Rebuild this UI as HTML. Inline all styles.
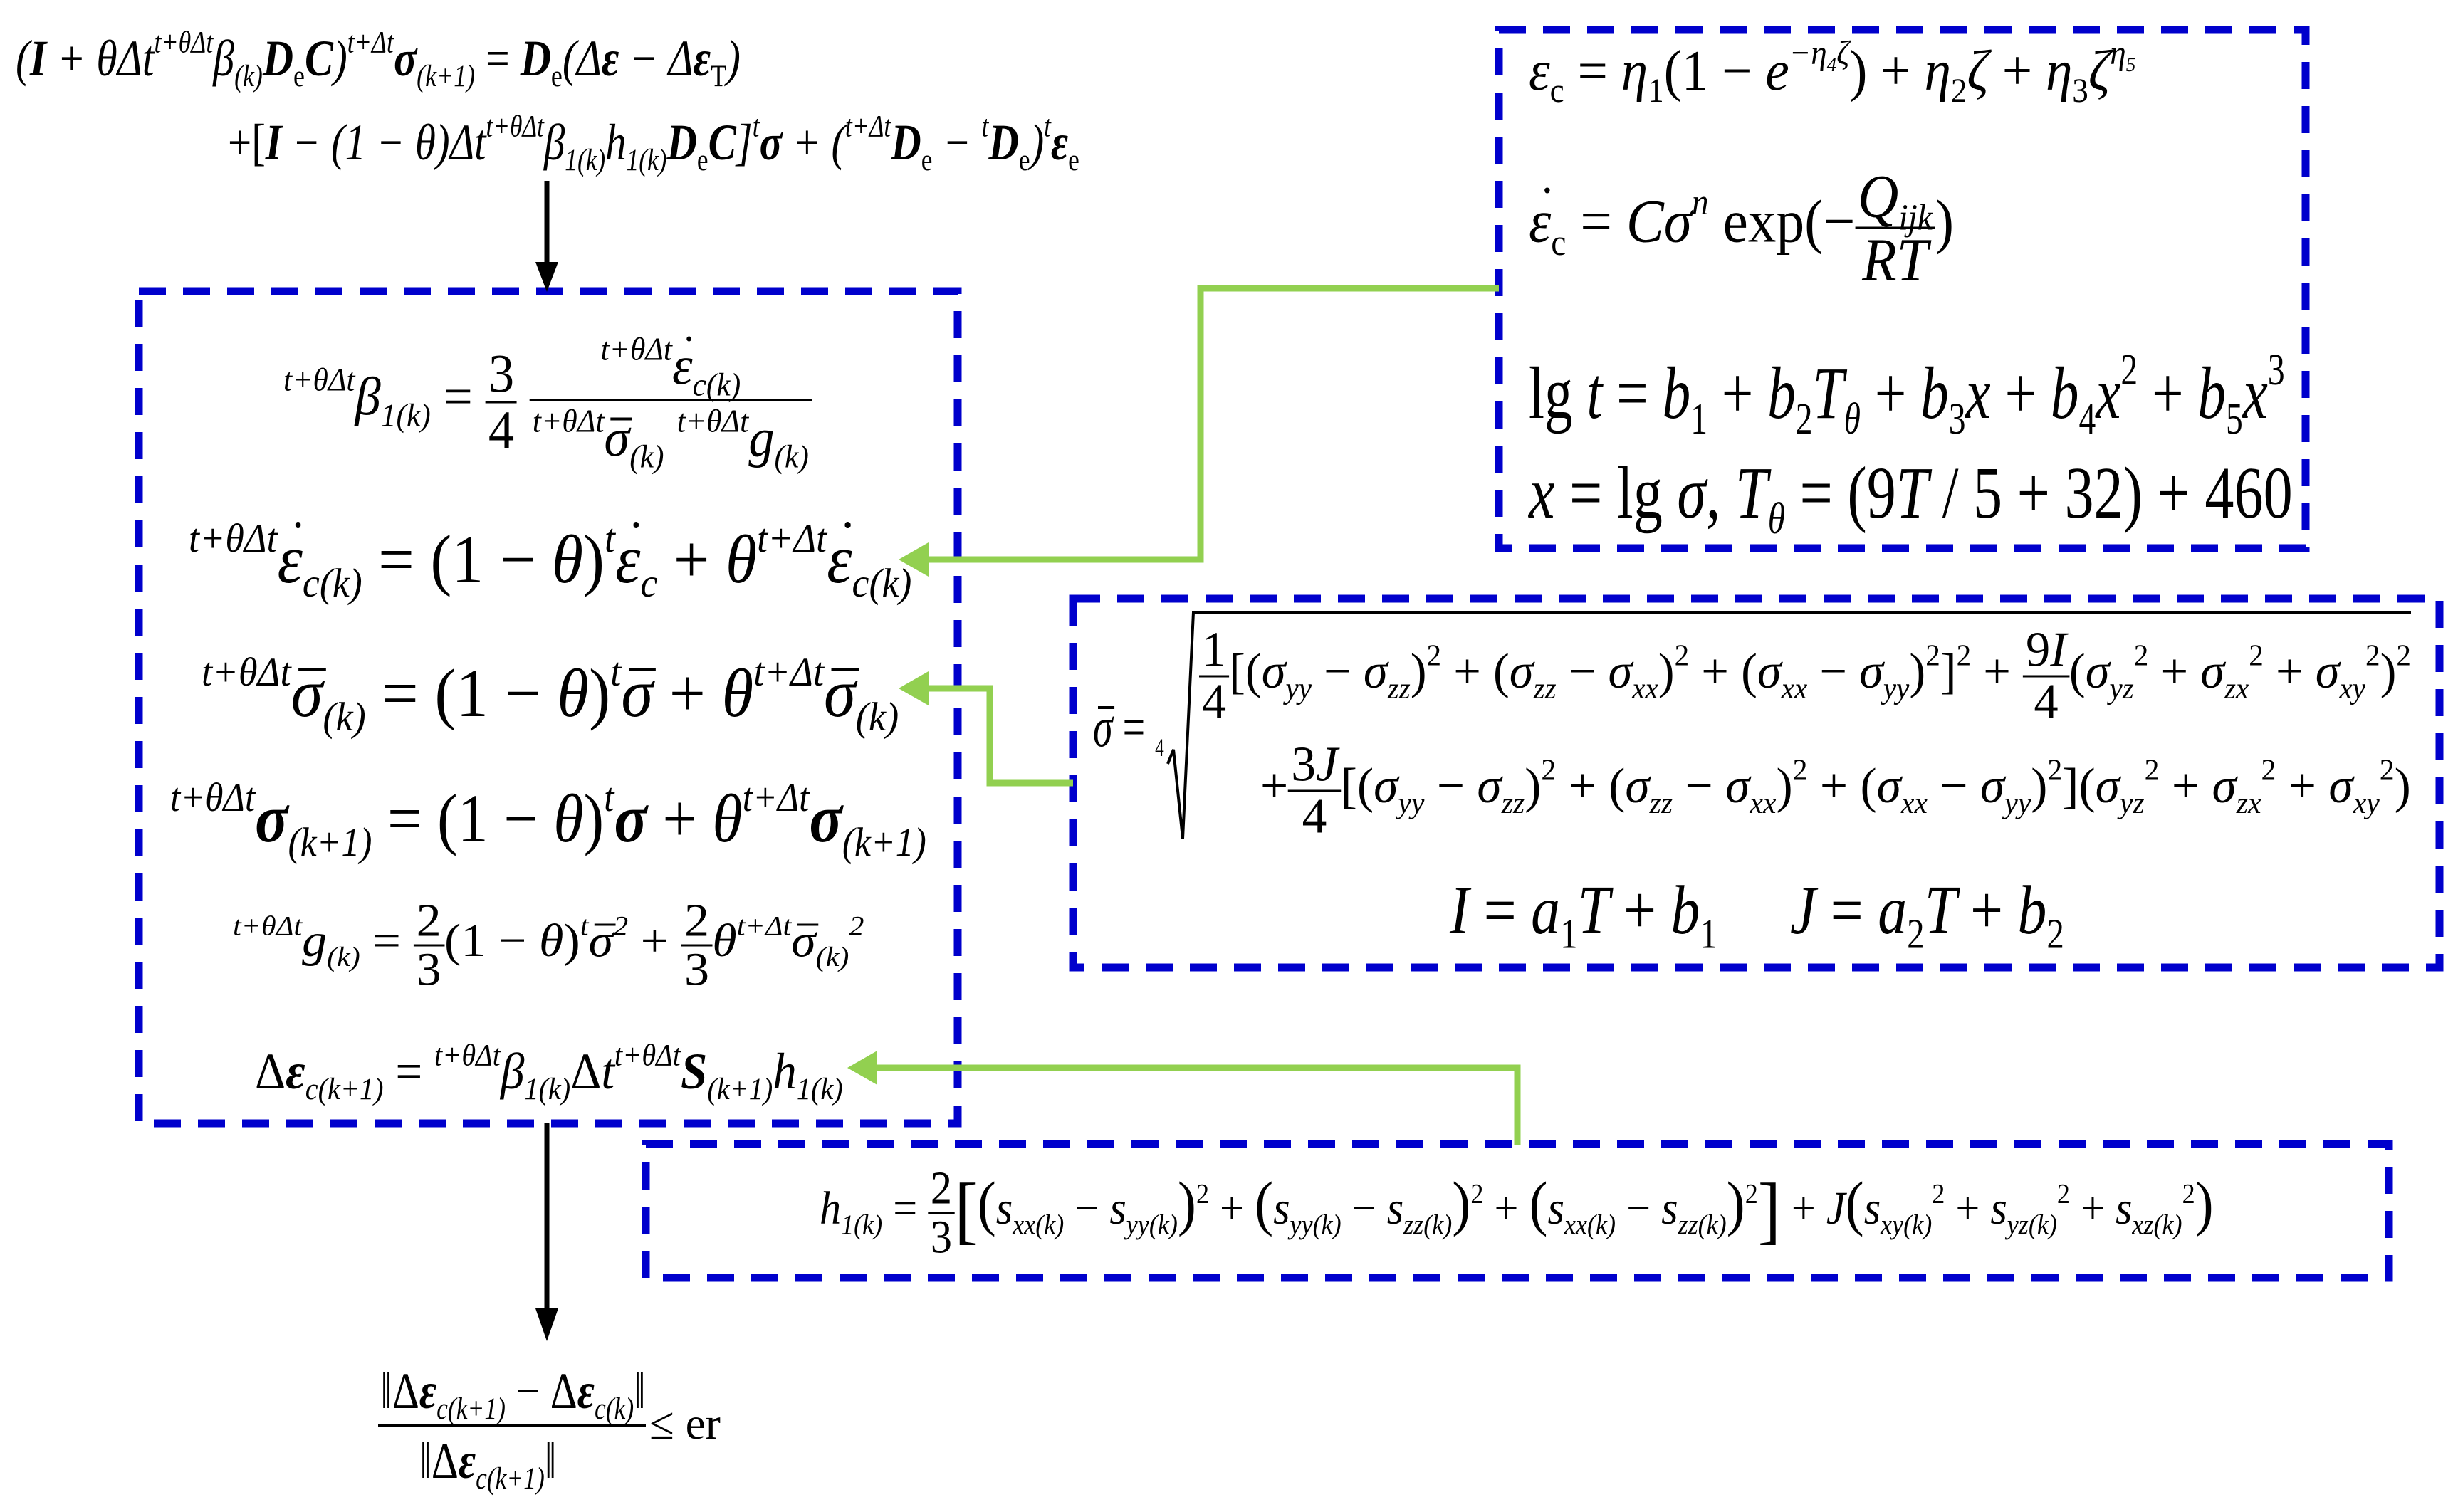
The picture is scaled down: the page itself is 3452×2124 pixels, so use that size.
<!DOCTYPE html>
<html><head><meta charset="utf-8">
<style>
html,body{margin:0;padding:0;background:#fff}
body{width:3452px;height:2124px;position:relative;overflow:hidden}
.m{position:absolute;font-family:"Liberation Serif",serif;font-style:italic;white-space:nowrap;line-height:1;transform-origin:left center;color:#000}
.u{font-style:normal}
.b{font-weight:bold}
sub,sup{font-size:0.6em;line-height:0}
sub{vertical-align:-0.35em}
sup{vertical-align:0.75em}
.f{display:inline-block;vertical-align:middle;text-align:center;font-style:normal}
.f>span{display:block;padding:0 4px}
.f>span+span{border-top:3px solid #000}
.d,.o{position:relative;display:inline-block}
.d::after{content:"";position:absolute;left:0.28em;top:-0.05em;width:0.09em;height:0.09em;border-radius:50%;background:#000}
.o::after{content:"";position:absolute;left:0.12em;top:0.12em;width:0.42em;height:0.05em;background:#000}
</style></head><body>
<svg width="3452" height="2124" style="position:absolute;left:0;top:0">
<g fill="none" stroke="#0000cc" stroke-width="11" stroke-dasharray="38 24">
<rect x="195" y="409" width="1150" height="1169"/>
<rect x="2105" y="42" width="1133" height="728"/>
<rect x="1507" y="841" width="1919" height="518"/>
<rect x="907" y="1607" width="2448" height="188"/>
</g>
<g stroke="#000" stroke-width="7" fill="none">
<line x1="768" y1="254" x2="768" y2="370"/>
<line x1="768" y1="1578" x2="768" y2="1840"/>
</g>
<path d="M752,368 L784,368 L768,410 z" fill="#000"/>
<path d="M752,1838 L784,1838 L768,1884 z" fill="#000"/>
<g stroke="#92d050" stroke-width="9" fill="none">
<polyline points="2105,405 1686,405 1686,786 1300,786"/>
<polyline points="1507,1100 1390,1100 1390,967 1300,967"/>
<polyline points="2131,1609 2131,1500 1225,1500"/>
</g>
<g fill="#92d050">
<path d="M1262,786 L1304,762 L1304,810 z"/>
<path d="M1262,967 L1304,943 L1304,991 z"/>
<path d="M1190,1500 L1232,1476 L1232,1524 z"/>
</g>
<g stroke="#000" stroke-width="4" fill="none">
<polyline points="1640,1073 1648,1053 1661,1178 1676,860 3386,860"/>
<line x1="531" y1="2003" x2="907" y2="2003"/>
</g>
</svg>

<div class="m" style="left:22px;top:82px;font-size:72px">(<b>I</b> + θΔ<i>t</i><sup>t+θΔt</sup>β<sub>(k)</sub><b>D</b><sub class="u">e</sub><b>C</b>)<sup>t+Δt</sup><b>σ</b><sub>(k+1)</sub> <span class="u">=</span> <b>D</b><sub class="u">e</sub>(Δ<b>ε</b> − Δ<b>ε</b><sub class="u">T</sub>)</div>
<div class="m" style="left:320px;top:200px;font-size:72px"><span class="u">+[</span><b>I</b> − (1 − θ)Δt<sup>t+θΔt</sup>β<sub>1(k)</sub>h<sub>1(k)</sub><b>D</b><sub class="u">e</sub><b>C</b>]<sup>t</sup><b>σ</b> + (<sup>t+Δt</sup><b>D</b><sub class="u">e</sub> − <sup>t</sup><b>D</b><sub class="u">e</sub>)<sup>t</sup><b>ε</b><sub class="u">e</sub></div>

<div class="m" style="left:398px;top:565px;font-size:76px"><sup>t+θΔt</sup>β<sub>1(k)</sub> <span class="u">=</span> <span class="f"><span>3</span><span>4</span></span> <span class="f" style="font-style:italic"><span style="padding-bottom:8px"><sup>t+θΔt</sup><span class="d">ε</span><sub>c(k)</sub></span><span style="padding-top:14px"><sup>t+θΔt</sup><span class="o">σ</span><sub>(k)</sub> <sup>t+θΔt</sup>g<sub>(k)</sub></span></span></div>
<div class="m" style="left:265px;top:786px;font-size:96px"><sup>t+θΔt</sup><span class="d">ε</span><sub>c(k)</sub> <span class="u">= (1 − </span>θ<span class="u">)</span><sup>t</sup><span class="d">ε</span><sub>c</sub> <span class="u">+</span> θ<sup>t+Δt</sup><span class="d">ε</span><sub>c(k)</sub></div>
<div class="m" style="left:283px;top:974px;font-size:96px"><sup>t+θΔt</sup><span class="o">σ</span><sub>(k)</sub> <span class="u">= (1 − </span>θ<span class="u">)</span><sup>t</sup><span class="o">σ</span> <span class="u">+</span> θ<sup>t+Δt</sup><span class="o">σ</span><sub>(k)</sub></div>
<div class="m" style="left:239px;top:1150px;font-size:96px"><sup>t+θΔt</sup><b>σ</b><sub>(k+1)</sub> <span class="u">= (1 − </span>θ<span class="u">)</span><sup>t</sup><b>σ</b> <span class="u">+</span> θ<sup>t+Δt</sup><b>σ</b><sub>(k+1)</sub></div>
<div class="m" style="left:327px;top:1328px;font-size:66px"><sup>t+θΔt</sup>g<sub>(k)</sub> <span class="u">=</span> <span class="f"><span>2</span><span>3</span></span><span class="u">(1 − </span>θ<span class="u">)</span><sup>t</sup><span class="o">σ</span><sup>2</sup> <span class="u">+</span> <span class="f"><span>2</span><span>3</span></span>θ<sup>t+Δt</sup><span class="o">σ</span><sub>(k)</sub><sup>2</sup></div>
<div class="m" style="left:358px;top:1505px;font-size:72px"><span class="u">Δ</span><b>ε</b><sub>c(k+1)</sub> <span class="u">=</span> <sup>t+θΔt</sup>β<sub>1(k)</sub><span class="u">Δ</span>t<sup>t+θΔt</sup><b>S</b><sub>(k+1)</sub>h<sub>1(k)</sub></div>

<div class="m" style="left:531px;top:2003px;font-size:72px"><span class="f" style="font-style:italic;width:376px"><span style="padding-bottom:10px">‖<span class="u">Δ</span><b>ε</b><sub>c(k+1)</sub> <span class="u">−</span> <span class="u">Δ</span><b>ε</b><sub>c(k)</sub>‖</span><span style="border-top:none;padding-top:16px">‖<span class="u">Δ</span><b>ε</b><sub>c(k+1)</sub>‖</span></span></div>
<div class="m u" style="left:912px;top:2000px;font-size:64px">≤ er</div>

<div class="m" style="left:2147px;top:100px;font-size:80px">ε<sub class="u">c</sub> <span class="u">=</span> η<sub class="u">1</sub><span class="u">(1 − </span>e<sup>−η<sub>4</sub>ζ</sup><span class="u">) +</span> η<sub class="u">2</sub>ζ <span class="u">+</span> η<sub class="u">3</sub>ζ<sup>η<sub>5</sub></sup></div>
<div class="m" style="left:2147px;top:320px;font-size:86px"><span class="d">ε</span><sub class="u">c</sub> <span class="u">=</span> Cσ<sup>n</sup> <span class="u">exp(−</span><span class="f" style="font-style:italic"><span>Q<sub>ijk</sub></span><span>RT</span></span><span class="u">)</span></div>
<div class="m" style="left:2147px;top:553px;font-size:104px"><span class="u">lg</span> t <span class="u">=</span> b<sub class="u">1</sub> <span class="u">+</span> b<sub class="u">2</sub>T<sub>θ</sub> <span class="u">+</span> b<sub class="u">3</sub>x <span class="u">+</span> b<sub class="u">4</sub>x<sup class="u">2</sup> <span class="u">+</span> b<sub class="u">5</sub>x<sup class="u">3</sup></div>
<div class="m" style="left:2147px;top:693px;font-size:104px">x <span class="u">= lg</span> σ<span class="u">,</span> T<sub>θ</sub> <span class="u">= (9</span>T <span class="u">/ 5 + 32) + 460</span></div>

<div class="m" style="left:1535px;top:1025px;font-size:80px"><span class="o">σ</span> <span class="u">=</span> <span class="u" style="font-size:36px;vertical-align:-14px">4</span></div>
<div class="m" style="left:1684px;top:950px;font-size:70px"><span class="f"><span>1</span><span>4</span></span><span class="u">[(</span>σ<sub>yy</sub> <span class="u">−</span> σ<sub>zz</sub><span class="u">)</span><sup class="u">2</sup> <span class="u">+ (</span>σ<sub>zz</sub> <span class="u">−</span> σ<sub>xx</sub><span class="u">)</span><sup class="u">2</sup> <span class="u">+ (</span>σ<sub>xx</sub> <span class="u">−</span> σ<sub>yy</sub><span class="u">)</span><sup class="u">2</sup><span class="u">]</span><sup class="u">2</sup> <span class="u">+</span> <span class="f"><span>9<i>I</i></span><span>4</span></span><span class="u">(</span>σ<sub>yz</sub><sup class="u">2</sup> <span class="u">+</span> σ<sub>zx</sub><sup class="u">2</sup> <span class="u">+</span> σ<sub>xy</sub><sup class="u">2</sup><span class="u">)</span><sup class="u">2</sup></div>
<div class="m" style="left:1770px;top:1111px;font-size:70px"><span class="u">+</span><span class="f"><span>3<i>J</i></span><span>4</span></span><span class="u">[(</span>σ<sub>yy</sub> <span class="u">−</span> σ<sub>zz</sub><span class="u">)</span><sup class="u">2</sup> <span class="u">+ (</span>σ<sub>zz</sub> <span class="u">−</span> σ<sub>xx</sub><span class="u">)</span><sup class="u">2</sup> <span class="u">+ (</span>σ<sub>xx</sub> <span class="u">−</span> σ<sub>yy</sub><span class="u">)</span><sup class="u">2</sup><span class="u">](</span>σ<sub>yz</sub><sup class="u">2</sup> <span class="u">+</span> σ<sub>zx</sub><sup class="u">2</sup> <span class="u">+</span> σ<sub>xy</sub><sup class="u">2</sup><span class="u">)</span></div>
<div class="m" style="left:2036px;top:1279px;font-size:98px">I <span class="u">=</span> a<sub class="u">1</sub>T <span class="u">+</span> b<sub class="u">1</sub>&nbsp;&nbsp;&nbsp;&nbsp; J <span class="u">=</span> a<sub class="u">2</sub>T <span class="u">+</span> b<sub class="u">2</sub></div>

<div class="m" style="left:1151px;top:1704px;font-size:66px">h<sub>1(k)</sub> <span class="u">=</span> <span class="f"><span>2</span><span>3</span></span><span class="u" style="font-size:1.6em;vertical-align:-0.15em">[</span><span class="u" style="font-size:1.3em">(</span>s<sub>xx(k)</sub> <span class="u">−</span> s<sub>yy(k)</sub><span class="u" style="font-size:1.3em">)</span><sup class="u">2</sup> <span class="u">+</span> <span class="u" style="font-size:1.3em">(</span>s<sub>yy(k)</sub> <span class="u">−</span> s<sub>zz(k)</sub><span class="u" style="font-size:1.3em">)</span><sup class="u">2</sup> <span class="u">+</span> <span class="u" style="font-size:1.3em">(</span>s<sub>xx(k)</sub> <span class="u">−</span> s<sub>zz(k)</sub><span class="u" style="font-size:1.3em">)</span><sup class="u">2</sup><span class="u" style="font-size:1.6em;vertical-align:-0.15em">]</span> <span class="u">+</span> J<span class="u" style="font-size:1.3em">(</span>s<sub>xy(k)</sub><sup class="u">2</sup> <span class="u">+</span> s<sub>yz(k)</sub><sup class="u">2</sup> <span class="u">+</span> s<sub>xz(k)</sub><sup class="u">2</sup><span class="u" style="font-size:1.3em">)</span></div>

<script>
var W=[1018,1196,742,1015,979,1062,886,826,376,100,852,597,1062,1073,100,1702,1616,863,1958];
document.querySelectorAll('.m').forEach(function(e,i){
  var w=e.scrollWidth;var t='translateY(-50%)';
  if(W[i]&&w>0){t+=' scaleX('+(W[i]/w)+')';}
  e.style.transform=t;
});
</script>
</body></html>
